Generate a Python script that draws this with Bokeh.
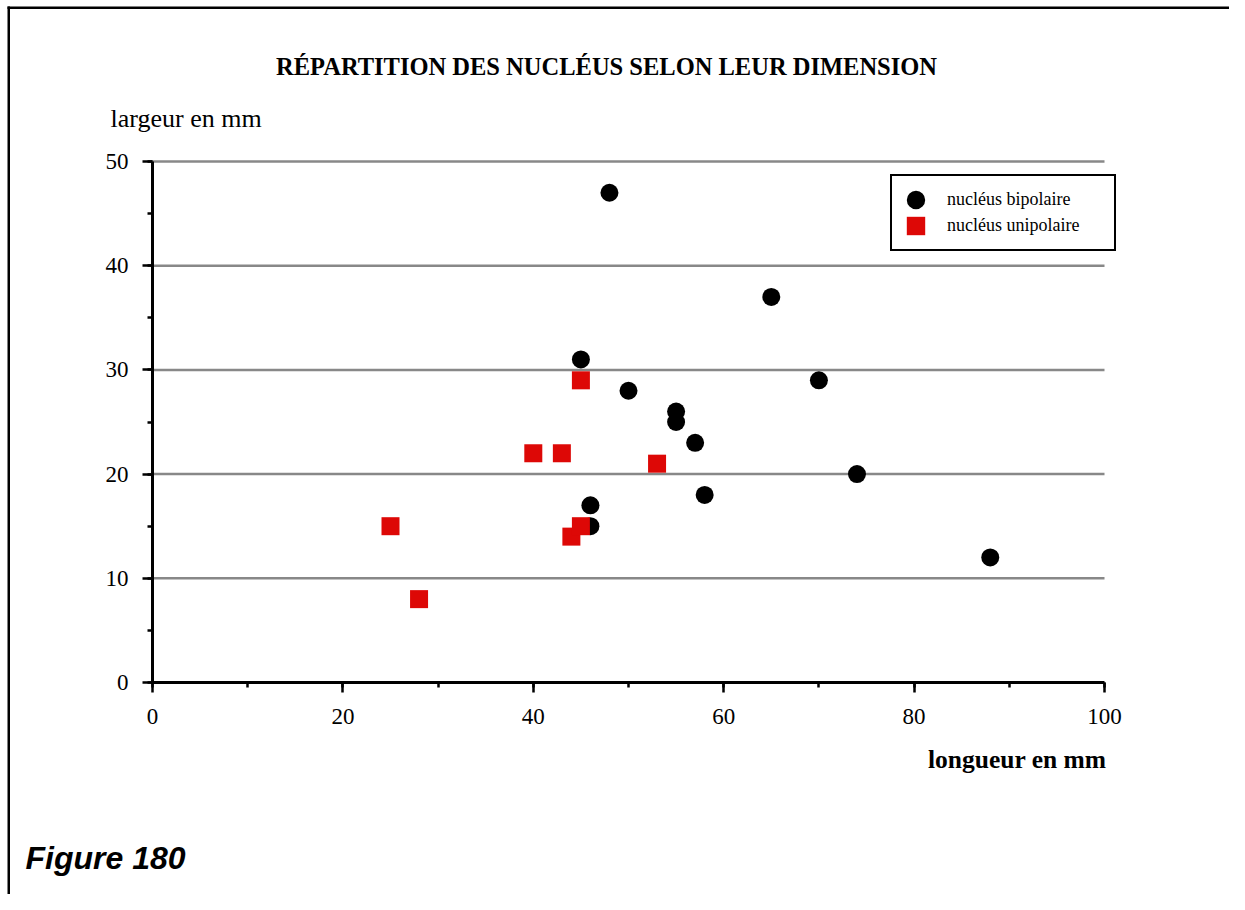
from bokeh.plotting import figure
from bokeh.models import (Range1d, SingleIntervalTicker, Label, Legend, LegendItem,
                          BoxAnnotation)
from bokeh.embed import file_html
from bokeh.resources import INLINE

# ---- data ----
title_text = "RÉPARTITION DES NUCLÉUS SELON LEUR DIMENSION"
x_label = "longueur en mm"
y_label = "largeur en mm"
caption = "Figure 180"
series_names = ["nucléus bipolaire", "nucléus unipolaire"]

bip_len = [48, 65, 45, 50, 70, 55, 55, 57, 74, 58, 46, 46, 88]
bip_wid = [47, 37, 31, 28, 29, 26, 25, 23, 20, 18, 17, 15, 12]
uni_len = [45, 40, 43, 53, 25, 44, 45, 28]
uni_wid = [29, 22, 22, 21, 15, 14, 15, 8]

x_bounds = (0, 100)
y_bounds = (0, 50)
y_grid_values = [10, 20, 30, 40, 50]

# ---- layout (canvas pixels, measured from top-left) ----
SERIF = "Liberation Serif"
RED = "#DD0806"
W, H = 1229, 894
AX_L, AX_R = 152, 1104      # canvas x of x=0 and x=100
AX_B, AX_T = 682, 161       # canvas y of y=0 and y=50
sx = (AX_R - AX_L) / (x_bounds[1] - x_bounds[0])
sy = (AX_B - AX_T) / (y_bounds[1] - y_bounds[0])
x_rng = Range1d(x_bounds[0] - AX_L / sx, x_bounds[0] + (W - AX_L) / sx)
y_rng = Range1d(y_bounds[0] - (H - AX_B) / sy, y_bounds[0] + AX_B / sy)

p = figure(width=W, height=H, x_range=x_rng, y_range=y_rng,
           output_backend="svg", toolbar_location=None,
           min_border=0, min_border_left=0, min_border_right=0,
           min_border_top=0, min_border_bottom=0)
p.title.visible = False
p.outline_line_color = None
p.background_fill_color = "white"
p.border_fill_color = "white"
p.xgrid.visible = False
p.ygrid.visible = False

p.xaxis.ticker = SingleIntervalTicker(interval=20, num_minor_ticks=2)
p.yaxis.ticker = SingleIntervalTicker(interval=10, num_minor_ticks=2)
p.xaxis.fixed_location = y_bounds[0]
p.yaxis.fixed_location = x_bounds[0]
p.xaxis.bounds = x_bounds
p.yaxis.bounds = y_bounds
for ax in (p.xaxis[0], p.yaxis[0]):
    ax.axis_line_width = 3
    ax.axis_line_color = "black"
    ax.major_tick_line_width = 2.5
    ax.minor_tick_line_width = 2.5
    ax.major_tick_line_color = "black"
    ax.minor_tick_line_color = "black"
    ax.major_tick_in = 0
    ax.minor_tick_in = 0
    ax.major_tick_out = 10
    ax.minor_tick_out = 5
    ax.major_label_text_font = SERIF
    ax.major_label_text_font_size = "23px"
    ax.major_label_text_color = "black"
p.xaxis.major_label_standoff = 16
p.yaxis.major_label_standoff = 14

# horizontal grid lines, bounded to the axis extent
p.segment(x0=[x_bounds[0]] * len(y_grid_values), x1=[x_bounds[1]] * len(y_grid_values),
          y0=y_grid_values, y1=y_grid_values, line_color="#888888", line_width=2.5)

r1 = p.ellipse(bip_len, bip_wid, width=18, height=18, width_units="screen",
               height_units="screen", fill_color="black", line_color=None)
r2 = p.rect(uni_len, uni_wid, width=18, height=18, width_units="screen",
            height_units="screen", fill_color=RED, line_color=None)

legend = Legend(items=[LegendItem(label=series_names[0], renderers=[r1]),
                       LegendItem(label=series_names[1], renderers=[r2])],
                location=(890, H - 251), padding=12, spacing=3,
                glyph_width=23, glyph_height=23, label_standoff=20,
                label_width=155, label_height=20,
                label_text_font=SERIF, label_text_font_size="18px",
                label_text_color="black",
                border_line_color="black", border_line_width=2.5, border_line_alpha=1,
                background_fill_color="white", background_fill_alpha=1)
p.add_layout(legend, "center")

def lab(x, y_mid, text, **kw):
    p.add_layout(Label(x=x, y=H - y_mid, x_units="screen", y_units="screen",
                       text=text, text_baseline="middle", text_color="black", **kw))

lab(606, 66, title_text, text_font=SERIF, text_font_style="bold",
    text_font_size="24.5px", text_align="center")
lab(110, 117.5, y_label, text_font=SERIF, text_font_size="26px", text_align="left")
lab(1106, 758.5, x_label, text_font=SERIF, text_font_style="bold",
    text_font_size="25.5px", text_align="right")
lab(25, 857, caption, text_font="Liberation Sans", text_font_style="bold italic",
    text_font_size="32px", text_align="left")

# page frame: top and left rules
for l, r, t, b in [(7, W, 6, 8.5), (7, 9.5, 6, H)]:
    p.add_layout(BoxAnnotation(left=l, right=r, top=H - t, bottom=H - b,
                               left_units="screen", right_units="screen",
                               top_units="screen", bottom_units="screen",
                               fill_color="black", fill_alpha=1,
                               line_color=None, line_alpha=0))

open("out.html", "w").write(file_html(p, INLINE))
